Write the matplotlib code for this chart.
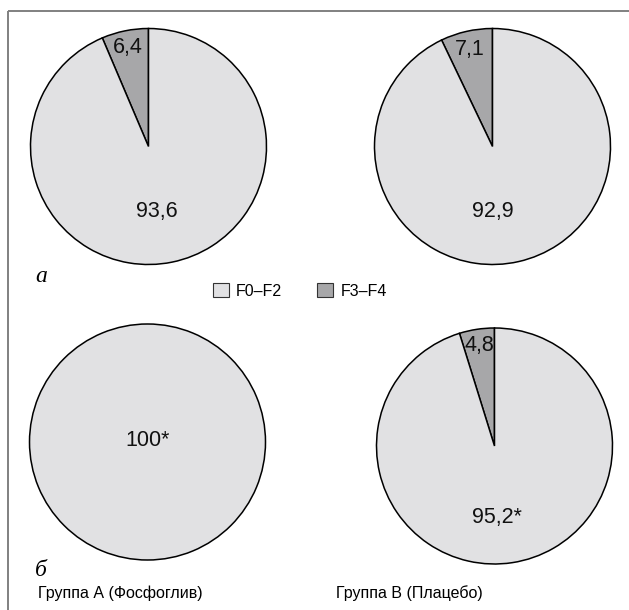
import matplotlib
matplotlib.use("Agg")
import matplotlib.pyplot as plt
from matplotlib.patches import Patch

W, H = 629, 610

categories = ["F0–F2", "F3–F4"]
groups = ["Группа А (Фосфоглив)", "Группа В (Плацебо)"]
panels = ["а", "б"]

f02_a = [93.6, 92.9]
f34_a = [6.4, 7.1]
f02_b = [100.0, 95.2]
f34_b = [0.0, 4.8]
signif_b = [True, True]

colors = {"F0–F2": "#e1e1e3", "F3–F4": "#a7a7a9"}

plt.rcParams['font.family'] = ['Liberation Sans', 'DejaVu Sans']

fig = plt.figure(figsize=(6.29, 6.10), dpi=100)
ax = fig.add_axes([0, 0, 1, 1])


def fmt(v, star=False):
    s = f"{v:.1f}".replace(".", ",")
    if s.endswith(",0"):
        s = s[:-2]
    return s + ("*" if star else "")


R = 118
centers = [[(148.5, 146.5), (492.5, 146.5)],
           [(147.5, 442.0), (494.5, 446.0)]]
main_pos = [[(157, 212), (493, 212)],
            [(148, 440), (497, 517)]]
small_pos = [[(128, 47), (470, 49)],
             [(None, None), (479, 346)]]

rows = [(f02_a, f34_a, [False, False]), (f02_b, f34_b, signif_b)]

for r, (f02, f34, sig) in enumerate(rows):
    for c in range(2):
        cx, cy = centers[r][c]
        vals, cols = [], []
        for name, v in zip(["F3–F4", "F0–F2"], [f34[c], f02[c]]):
            if v > 0:
                vals.append(v)
                cols.append(colors[name])
        ax.pie(vals, colors=cols, startangle=90, counterclock=True,
               center=(cx, H - cy), radius=R, frame=True,
               wedgeprops=dict(edgecolor="black", linewidth=1.1))
        mx, my = main_pos[r][c]
        ax.text(mx, H - my, fmt(f02[c], sig[c]), ha="center", va="center",
                fontsize=15.5, color="#111111")
        if f34[c] > 0:
            sx, sy = small_pos[r][c]
            ax.text(sx, H - sy, fmt(f34[c]), ha="center", va="center",
                    fontsize=15.5, color="#111111")

# panel letters
ax.text(41, H - 277, panels[0], ha="center", va="center", fontsize=17,
        family="Liberation Serif", style="italic")
ax.text(41, H - 571, panels[1], ha="center", va="center", fontsize=17,
        family="Liberation Serif", style="italic")

# group labels
ax.text(120, H - 593, groups[0], ha="center", va="center", fontsize=11.5)
ax.text(409, H - 593, groups[1], ha="center", va="center", fontsize=11.5)

# frame (top and left)
ax.plot([8, W], [H - 10.5, H - 10.5], color="#808080", lw=1.4,
        solid_capstyle="butt")
ax.plot([8, 8], [H - 10.5, 0], color="#808080", lw=1.4,
        solid_capstyle="butt")

handles = [Patch(facecolor=colors[k], edgecolor="#333333", linewidth=0.8)
           for k in categories]
ax.legend(handles, categories, loc="center", bbox_to_anchor=(300 / W, 1 - 291 / H),
          bbox_transform=ax.transAxes, ncol=2, frameon=False, fontsize=11.5,
          handlelength=1.0, handleheight=1.0, handletextpad=0.45,
          columnspacing=2.2, borderpad=0)

ax.set_xlim(0, W)
ax.set_ylim(0, H)
ax.set_aspect("equal")
ax.axis("off")

fig.savefig("out.png", dpi=100, facecolor="white")
